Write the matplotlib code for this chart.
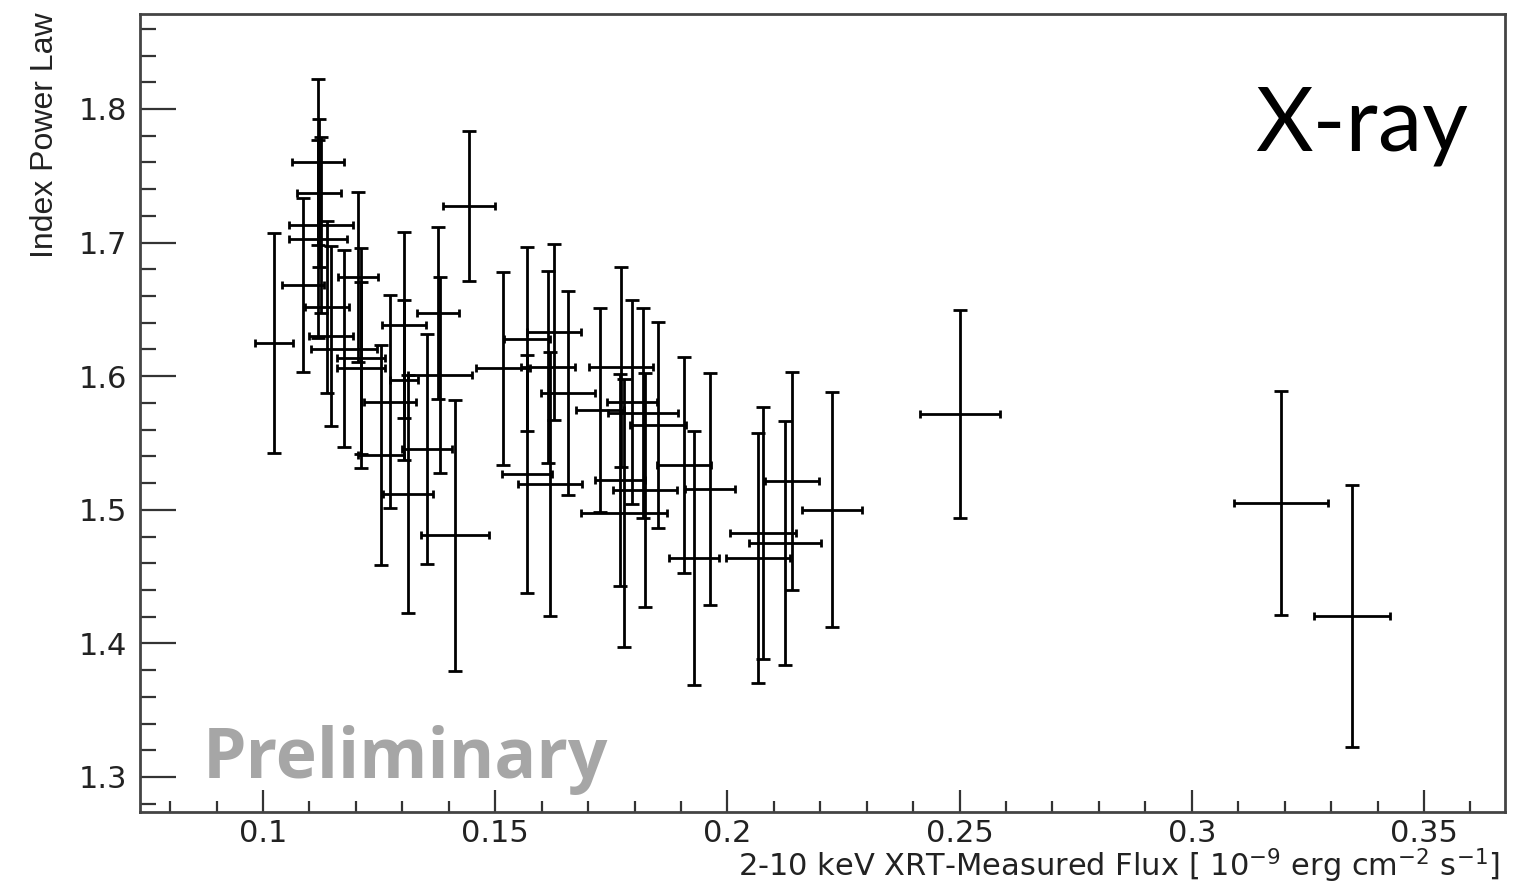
import matplotlib
matplotlib.use("Agg")
import matplotlib.pyplot as plt
from matplotlib.ticker import MultipleLocator

# ---- data ----
flux = [0.10237, 0.11184, 0.11206, 0.11249, 0.11184, 0.10861, 0.12046, 0.11378,
        0.11464, 0.11744, 0.12110, 0.12110, 0.12735, 0.12541, 0.13036, 0.13036,
        0.13122, 0.13531, 0.13768, 0.13811, 0.14134, 0.14436, 0.15168, 0.16137,
        0.15685, 0.16266, 0.15685, 0.16568, 0.16180, 0.17257, 0.17709, 0.17687,
        0.17774, 0.17946, 0.18183, 0.18226, 0.18506, 0.19065, 0.19281, 0.19625,
        0.20659, 0.20767, 0.21240, 0.21391, 0.22252, 0.25009, 0.31921, 0.33450]
flux_err = [0.0041, 0.0056, 0.0047, 0.0069, 0.0062, 0.0045, 0.0043, 0.0047,
            0.0047, 0.0071, 0.0052, 0.0052, 0.0056, 0.0050, 0.0047, 0.0030,
            0.0054, 0.0054, 0.0045, 0.0069, 0.0073, 0.0056, 0.0058, 0.0058,
            0.0050, 0.0058, 0.0054, 0.0058, 0.0069, 0.0052, 0.0069, 0.0054,
            0.0093, 0.0054, 0.0075, 0.0069, 0.0060, 0.0058, 0.0054, 0.0054,
            0.0069, 0.0071, 0.0078, 0.0058, 0.0065, 0.0086, 0.0101, 0.0082]
index = [1.6249, 1.7603, 1.7371, 1.7132, 1.7027, 1.6683, 1.6743, 1.6518,
         1.6301, 1.6204, 1.6136, 1.6061, 1.5807, 1.5410, 1.6383, 1.5972,
         1.5118, 1.5455, 1.6473, 1.6009, 1.4811, 1.7274, 1.6061, 1.6069,
         1.6278, 1.6331, 1.5268, 1.5874, 1.5193, 1.5747, 1.6069, 1.5223,
         1.4976, 1.5807, 1.5725, 1.5148, 1.5635, 1.5335, 1.4639, 1.5156,
         1.4639, 1.4826, 1.4751, 1.5216, 1.4999, 1.5717, 1.5051, 1.4205]
index_err = [0.0823, 0.0621, 0.0554, 0.0659, 0.0741, 0.0651, 0.0636, 0.0644,
             0.0674, 0.0737, 0.0823, 0.0644, 0.0797, 0.0820, 0.0696, 0.0599,
             0.0891, 0.0861, 0.0644, 0.0730, 0.1014, 0.0565, 0.0722, 0.0722,
             0.0689, 0.0662, 0.0891, 0.0763, 0.0988, 0.0767, 0.0749, 0.0797,
             0.1003, 0.0760, 0.0786, 0.0876, 0.0771, 0.0808, 0.0954, 0.0865,
             0.0936, 0.0943, 0.0913, 0.0816, 0.0880, 0.0778, 0.0835, 0.0977]

x_ticks = [0.1, 0.15, 0.2, 0.25, 0.3, 0.35]
x_ticklabels = ["0.1", "0.15", "0.2", "0.25", "0.3", "0.35"]
y_ticks = [1.3, 1.4, 1.5, 1.6, 1.7, 1.8]
y_ticklabels = ["1.3", "1.4", "1.5", "1.6", "1.7", "1.8"]

plt.rcParams['mathtext.default'] = 'regular'

fig = plt.figure(figsize=(15.24, 8.89), dpi=100)
ax = fig.add_axes([140/1524, 1-812/889, (1505-140)/1524, (812-14)/889])

ax.errorbar(flux, index, yerr=index_err, fmt='none', ecolor='black',
            elinewidth=2.0, capsize=5, capthick=2.0)
ax.errorbar(flux, index, xerr=flux_err, fmt='none', ecolor='black',
            elinewidth=2.0, capsize=3, capthick=2.0)

ax.set_xlim(0.07351, 0.36744)
ax.set_ylim(1.2738, 1.8711)

ax.set_xticks(x_ticks)
ax.set_xticklabels(x_ticklabels)
ax.set_yticks(y_ticks)
ax.set_yticklabels(y_ticklabels)
ax.xaxis.set_minor_locator(MultipleLocator(0.01))
ax.yaxis.set_minor_locator(MultipleLocator(0.02))

ax.tick_params(axis='y', which='major', direction='in', length=26, width=1.6,
               color='#333333', labelsize=22, pad=9)
ax.tick_params(axis='y', which='minor', direction='in', length=11.5, width=1.6,
               color='#333333')
ax.tick_params(axis='x', which='major', direction='in', length=16, width=1.6,
               color='#333333', labelsize=22, pad=5)
ax.tick_params(axis='x', which='minor', direction='in', length=8, width=1.6,
               color='#333333')
for lab in ax.get_xticklabels() + ax.get_yticklabels():
    lab.set_fontfamily('DejaVu Sans')
    lab.set_color('#222222')

for s in ax.spines.values():
    s.set_linewidth(2.0)
    s.set_color('#444444')

ax.set_ylabel("Index Power Law", fontsize=23, family='Liberation Sans', color='#222222')
ax.yaxis.set_label_coords((60-140)/1365, (812-135)/798)

xl = ax.set_xlabel("2-10 keV XRT-Measured Flux [ 10$^{-9}$ erg cm$^{-2}$ s$^{-1}$]",
                   fontsize=22, family='DejaVu Sans', color='#222222')
ax.xaxis.set_label_coords((1500-140)/1365, (812-866)/798)
xl.set_ha('right')
xl.set_va('center')

fig.text(1255/1524, 1-150/889, "X-ray", fontsize=64, family='Lato',
         color='black', ha='left', va='baseline')
fig.text(203/1524, 1-778/889, "Preliminary", fontsize=50, family='Open Sans',
         fontweight='bold', color='#a6a6a6', ha='left', va='baseline')

fig.savefig("out.png", dpi=100)
